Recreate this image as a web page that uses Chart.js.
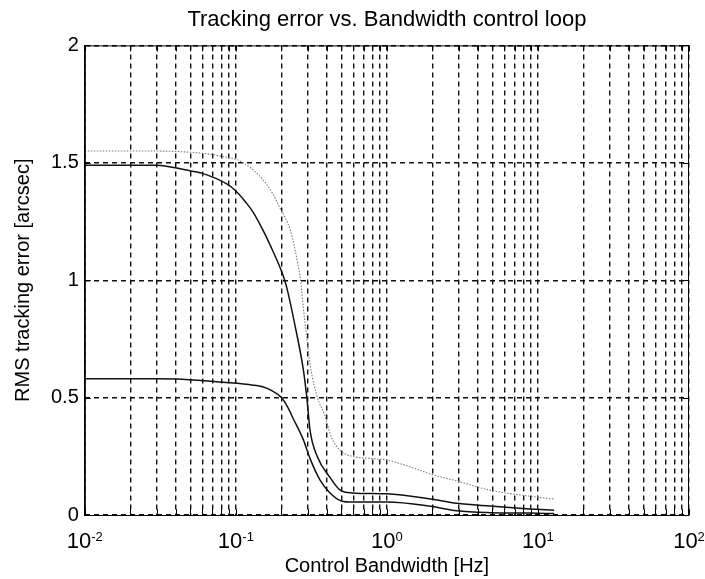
<!DOCTYPE html>
<html>
<head>
<meta charset="utf-8">
<script src="https://cdn.jsdelivr.net/npm/chart.js@4.4.0/dist/chart.umd.min.js"></script>
<style>
  html, body { margin: 0; padding: 0; background: #fff; }
</style>
</head>
<body>
<canvas id="trackingChart" width="705" height="579"></canvas>
<script>
// Data
const dottedX = [0.01, 0.03, 0.05, 0.065, 0.08, 0.1, 0.112, 0.13, 0.15, 0.175, 0.195, 0.23, 0.257, 0.268, 0.28, 0.298, 0.312, 0.347, 0.385, 0.43, 0.5, 0.59, 0.8, 1.0, 1.5, 1.95, 2.9, 4.8, 8.8, 12.8];
const dottedY = [1.55, 1.55, 1.545, 1.538, 1.528, 1.515, 1.5, 1.47, 1.43, 1.37, 1.31, 1.21, 1.07, 1.0, 0.88, 0.73, 0.63, 0.5, 0.43, 0.33, 0.27, 0.25, 0.24, 0.234, 0.2, 0.174, 0.145, 0.106, 0.08, 0.068];

const middleX = [0.01, 0.03, 0.046, 0.06, 0.087, 0.1, 0.117, 0.13, 0.152, 0.177, 0.2, 0.215, 0.25, 0.28, 0.295, 0.31, 0.347, 0.42, 0.49, 0.59, 1.0, 1.95, 2.9, 4.8, 8.8, 12.8];
const middleY = [1.49, 1.49, 1.47, 1.455, 1.41, 1.38, 1.33, 1.29, 1.21, 1.12, 1.04, 0.98, 0.787, 0.617, 0.5, 0.36, 0.247, 0.16, 0.106, 0.094, 0.09, 0.068, 0.05, 0.038, 0.026, 0.02];

const lowerX = [0.01, 0.03, 0.044, 0.083, 0.13, 0.152, 0.17, 0.2, 0.22, 0.24, 0.28, 0.31, 0.36, 0.42, 0.5, 0.59, 1.0, 1.95, 2.9, 4.8, 8.8, 12.8];
const lowerY = [0.58, 0.58, 0.578, 0.565, 0.553, 0.545, 0.532, 0.5, 0.46, 0.41, 0.32, 0.24, 0.15, 0.094, 0.06, 0.055, 0.055, 0.037, 0.018, 0.01, 0.008, 0.006];

const xDecades = [0.01, 0.1, 1, 10];
const xTickPowers = [-2, -1, 0, 1, 2];
const yTicks = [0, 0.5, 1, 1.5, 2];

const FONT = "'Liberation Sans', Arial, Helvetica, sans-serif";

function toPoints(xs, ys) {
  return xs.map((x, i) => ({ x: x, y: ys[i] }));
}

// grid at 1..9 x each decade, plus the last decade
const xGrid = [];
xDecades.forEach((d) => {
  for (let m = 1; m <= 9; m++) xGrid.push(+(m * d).toPrecision(3));
});
xGrid.push(100);

// box round the axes with MATLAB style inward ticks
const framePlugin = {
  id: "frame",
  afterDraw(chart) {
    const { ctx, chartArea: a, scales } = chart;
    ctx.save();
    ctx.strokeStyle = "#000";
    ctx.lineWidth = 1;
    ctx.setLineDash([]);
    ctx.strokeRect(a.left + 0.5, a.top + 0.5, a.right - a.left - 1, a.bottom - a.top);
    ctx.beginPath();
    scales.x.ticks.forEach((t) => {
      const px = Math.round(scales.x.getPixelForValue(t.value)) + 0.5;
      ctx.moveTo(px, a.bottom);
      ctx.lineTo(px, a.bottom - 6);
      ctx.moveTo(px, a.top);
      ctx.lineTo(px, a.top + 6);
    });
    scales.y.ticks.forEach((t) => {
      const py = Math.round(scales.y.getPixelForValue(t.value)) + 0.5;
      ctx.moveTo(a.left, py);
      ctx.lineTo(a.left + 6, py);
      ctx.moveTo(a.right, py);
      ctx.lineTo(a.right - 6, py);
    });
    ctx.stroke();
    ctx.restore();
  },
};

// 10^n tick labels with a raised exponent
const xLabelPlugin = {
  id: "xLabels",
  afterDraw(chart) {
    const { ctx, chartArea: a, scales } = chart;
    ctx.save();
    ctx.fillStyle = "#000";
    ctx.textBaseline = "alphabetic";
    ctx.textAlign = "left";
    xTickPowers.forEach((p) => {
      const px = scales.x.getPixelForValue(Math.pow(10, p));
      const base = "10";
      const exp = String(p);
      ctx.font = "22px " + FONT;
      const wb = ctx.measureText(base).width;
      ctx.font = "13px " + FONT;
      const we = ctx.measureText(exp).width;
      const left = px - (wb + we) / 2;
      ctx.font = "22px " + FONT;
      ctx.fillText(base, left, a.bottom + 33);
      ctx.font = "13px " + FONT;
      ctx.fillText(exp, left + wb, a.bottom + 26);
    });
    ctx.restore();
  },
};

const lineBase = {
  pointRadius: 0,
  fill: false,
  cubicInterpolationMode: "monotone",
};

const config = {
  type: "line",
  data: {
    datasets: [
      Object.assign({}, lineBase, {
        label: "dotted",
        data: toPoints(dottedX, dottedY),
        borderColor: "#7a7a7a",
        borderWidth: 1.1,
        borderDash: [1.5, 1.5],
      }),
      Object.assign({}, lineBase, {
        label: "middle",
        data: toPoints(middleX, middleY),
        borderColor: "#111",
        borderWidth: 1.5,
      }),
      Object.assign({}, lineBase, {
        label: "lower",
        data: toPoints(lowerX, lowerY),
        borderColor: "#111",
        borderWidth: 1.5,
      }),
    ],
  },
  options: {
    responsive: false,
    animation: false,
    layout: {
      padding: { left: 0, right: 16, top: 0, bottom: 0 },
    },
    plugins: {
      legend: { display: false },
      tooltip: { enabled: false },
      title: {
        display: true,
        fullSize: false,
        text: "Tracking error vs. Bandwidth control loop",
        color: "#000",
        font: { family: FONT, size: 22, weight: "normal" },
        padding: { top: 7, bottom: 12 },
      },
    },
    scales: {
      x: {
        type: "logarithmic",
        min: 0.01,
        max: 100,
        afterBuildTicks(scale) {
          scale.ticks = xGrid.map((v) => ({ value: v }));
        },
        ticks: { display: false },
        grid: { color: "#111", lineWidth: 1.4, drawTicks: false },
        border: { display: true, color: "#000", width: 1, dash: [5, 4] },
        title: {
          display: true,
          text: "Control Bandwidth [Hz]",
          color: "#000",
          font: { family: FONT, size: 20, weight: "normal" },
          padding: { top: 39, bottom: 1 },
        },
      },
      y: {
        type: "linear",
        min: 0,
        max: 2,
        afterBuildTicks(scale) {
          scale.ticks = yTicks.map((v) => ({ value: v }));
        },
        ticks: {
          color: "#000",
          padding: 6,
          font: { family: FONT, size: 20 },
          callback: (v) => String(v),
        },
        grid: { color: "#111", lineWidth: 1.4, drawTicks: false },
        border: { display: true, color: "#000", width: 1, dash: [5, 4] },
        title: {
          display: true,
          text: "RMS tracking error [arcsec]",
          color: "#000",
          font: { family: FONT, size: 20, weight: "normal" },
          padding: { top: 11, bottom: 10 },
        },
      },
    },
  },
  plugins: [framePlugin, xLabelPlugin],
};

const ctx = document.getElementById("trackingChart").getContext("2d");
const trackingChart = new Chart(ctx, config);
</script>
</body>
</html>
